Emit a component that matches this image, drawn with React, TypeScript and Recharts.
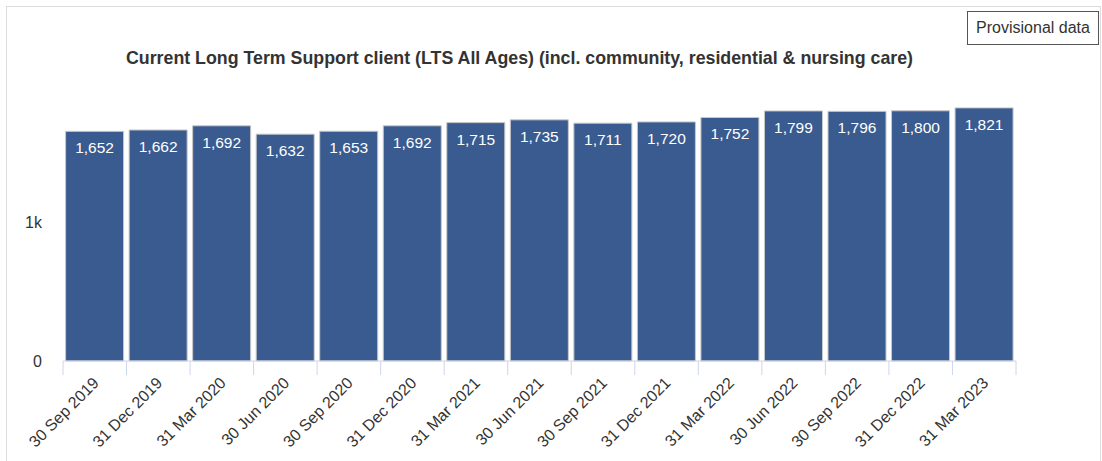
import React from "react";
import { BarChart, Bar, XAxis, YAxis, LabelList } from "recharts";

const categories = [
  "30 Sep 2019", "31 Dec 2019", "31 Mar 2020", "30 Jun 2020", "30 Sep 2020",
  "31 Dec 2020", "31 Mar 2021", "30 Jun 2021", "30 Sep 2021", "31 Dec 2021",
  "31 Mar 2022", "30 Jun 2022", "30 Sep 2022", "31 Dec 2022", "31 Mar 2023",
];
const clients = [1652, 1662, 1692, 1632, 1653, 1692, 1715, 1735, 1711, 1720, 1752, 1799, 1796, 1800, 1821];
const yTicks = [0, 1000];
const title = "Current Long Term Support client (LTS All Ages) (incl. community, residential & nursing care)";
const badge = "Provisional data";

const data = categories.map((c, i) => ({ date: c, value: clients[i] }));

const FONT = '"Liberation Sans", Arial, Helvetica, sans-serif';
const CHART_W = 1093;
const CHART_H = 454;
const MARGIN = { top: 76, right: 84, left: 16, bottom: 0 };
const Y_W = 40;
const PLOT_W = CHART_W - MARGIN.left - MARGIN.right - Y_W;
const BAND = PLOT_W / categories.length;
const AXIS_COLOR = "#ccd6eb";

const XTick = (props: any) => {
  const { x, y, payload, index } = props;
  const left = x - BAND / 2;
  const right = x + BAND / 2;
  return (
    <g>
      <line x1={left} y1={y} x2={left} y2={y + 14} stroke={AXIS_COLOR} strokeWidth={1} />
      {index === categories.length - 1 && (
        <line x1={right} y1={y} x2={right} y2={y + 14} stroke={AXIS_COLOR} strokeWidth={1} />
      )}
      <text
        x={x + 5}
        y={y + 23}
        textAnchor="end"
        transform={`rotate(-45, ${x + 5}, ${y + 23})`}
        fill="#333333"
        fontSize={16}
        fontFamily={FONT}
      >
        {payload.value}
      </text>
    </g>
  );
};

const fmt = (v: number) => v.toLocaleString("en-US");

export default function App() {
  return (
    <div
      style={{
        position: "absolute",
        left: 6,
        top: 6,
        width: CHART_W,
        height: 470,
        border: "1px solid #dcdcdc",
        background: "#ffffff",
        fontFamily: FONT,
      }}
    >
      <div
        style={{
          position: "absolute",
          left: 0,
          top: 40,
          width: 1025,
          textAlign: "center",
          fontSize: 17.8,
          lineHeight: "22px",
          fontWeight: "bold",
          color: "#333333",
          whiteSpace: "nowrap",
        }}
      >
        {title}
      </div>
      <div
        style={{
          position: "absolute",
          left: 960,
          top: 4,
          width: 130,
          height: 32,
          border: "1px solid #555555",
          fontSize: 16,
          lineHeight: "32px",
          textAlign: "center",
          color: "#333333",
          background: "#ffffff",
          zIndex: 2,
        }}
      >
        {badge}
      </div>
      <BarChart width={CHART_W} height={CHART_H} data={data} margin={MARGIN} barCategoryGap={2.6}>
        <XAxis
          dataKey="date"
          interval={0}
          height={100}
          axisLine={{ stroke: AXIS_COLOR }}
          tickLine={false}
          tickSize={0}
          tickMargin={0}
          tick={<XTick />}
        />
        <YAxis
          width={Y_W}
          domain={[0, 2000]}
          ticks={yTicks}
          axisLine={false}
          tickLine={false}
          tickSize={0}
          tickMargin={21}
          tickFormatter={(v: number) => (v === 0 ? "0" : `${v / 1000}k`)}
          tick={{ fill: "#333333", fontSize: 16, fontFamily: FONT }}
        />
        <Bar dataKey="value" fill="#395b8f" stroke="#c8c8c8" strokeWidth={1} isAnimationActive={false}>
          <LabelList
            dataKey="value"
            position="insideTop"
            offset={11}
            formatter={(v: any) => fmt(Number(v))}
            fill="#ffffff"
            fontSize={15.5}
            fontFamily={FONT}
          />
        </Bar>
      </BarChart>
    </div>
  );
}
